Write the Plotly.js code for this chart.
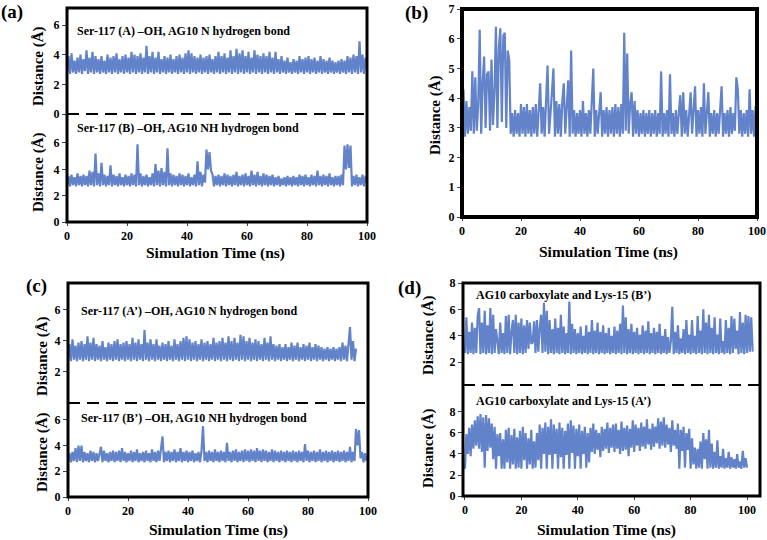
<!DOCTYPE html>
<html>
<head>
<meta charset="utf-8">
<script src="https://cdn.plot.ly/plotly-3.0.1.min.js"></script>
<style>html,body{margin:0;padding:0;background:#fff;}#chart{width:767px;height:540px;}</style>
</head>
<body>
<div id="chart"></div>
<script>
// ---------------- data (distance in Å, sampled every 0.5 ns) ----------------
const timeStep = 0.5;
const xTicks = [0, 20, 40, 60, 80, 100];

// (a) top: Ser-117 (A) –OH, AG10 N
const serA = [
2.8,3.9,2.7,4.1,2.8,3.6,2.7,3.8,2.8,4.0,
2.7,3.7,2.9,4.3,2.7,3.8,2.8,4.2,2.7,3.9,
2.8,3.7,2.7,3.9,2.8,3.6,2.7,4.0,2.8,3.8,
2.7,3.9,2.8,4.1,2.7,3.7,2.8,3.9,2.7,4.0,
2.8,3.8,2.7,4.2,2.8,4.0,2.7,3.9,2.8,4.1,
2.7,3.8,2.8,4.6,2.7,3.9,2.8,4.2,2.7,3.8,
2.8,4.2,2.7,3.7,2.8,3.9,2.7,3.8,2.8,4.0,
2.7,3.7,2.8,3.9,2.7,4.0,2.8,3.8,2.7,4.1,
2.8,4.3,2.7,4.1,2.8,3.9,2.7,3.8,2.8,4.0,
2.7,3.8,2.8,3.9,2.7,4.0,2.8,3.7,2.7,3.9,
2.8,4.2,2.7,3.9,2.8,4.1,2.7,3.8,2.8,4.3,
2.7,3.9,2.8,4.4,2.7,4.1,2.8,4.3,2.7,3.9,
2.8,4.2,2.7,3.8,2.8,4.3,2.7,4.0,2.8,3.9,
2.7,4.1,2.8,3.9,2.7,4.2,2.8,3.8,2.7,4.2,
2.8,3.7,2.7,3.9,2.8,3.6,2.7,3.8,2.8,3.5,
2.7,3.7,2.8,3.6,2.7,3.9,2.8,3.7,2.7,3.8,
2.8,3.9,2.7,3.7,2.8,3.8,2.7,3.6,2.8,3.9,
2.7,3.7,2.8,3.6,2.7,3.8,2.8,3.6,2.7,3.5,
2.8,3.6,2.7,3.7,2.8,3.6,2.7,3.9,2.8,3.8,
2.7,4.0,2.8,3.9,2.7,4.9,2.8,4.0,2.7,3.8,
3.0];

// (a) bottom: Ser-117 (B) –OH, AG10 NH
const serB = [
2.8,3.5,2.7,3.6,2.8,3.4,2.7,3.7,2.8,3.5,
2.7,3.6,2.8,3.5,2.7,3.9,2.8,3.8,2.7,5.2,
2.8,3.7,2.7,4.5,2.8,3.6,2.7,3.5,2.8,4.3,
2.7,3.6,2.8,3.5,2.7,3.7,2.8,3.4,2.7,3.6,
2.8,3.5,2.7,3.7,2.8,3.6,2.7,5.9,2.8,3.7,
2.7,3.5,2.8,3.6,2.7,3.4,2.8,3.7,2.7,4.4,
2.8,3.9,2.7,4.1,2.8,3.8,2.7,5.6,2.8,3.7,
2.7,3.6,2.8,3.5,2.7,3.7,2.8,3.6,2.7,3.5,
2.8,3.7,2.7,3.4,2.8,3.6,2.7,4.6,2.8,3.8,
2.7,3.6,3.0,5.5,4.0,5.3,3.9,3.6,2.7,3.5,
2.8,3.6,2.7,3.5,2.8,3.7,2.7,3.6,2.8,3.5,
2.7,3.6,2.8,3.8,2.7,3.5,2.8,3.6,2.7,3.7,
2.8,3.5,2.7,3.9,2.8,3.6,2.7,3.8,2.8,3.5,
2.7,3.7,2.8,3.6,2.7,3.5,2.8,3.6,2.7,3.4,
2.8,3.5,2.7,3.3,2.8,3.4,2.7,3.5,2.8,3.4,
2.7,3.5,2.8,3.4,2.7,3.6,2.8,3.5,2.7,3.6,
2.8,3.4,2.7,3.6,2.8,3.5,2.7,3.9,2.8,3.5,
2.7,3.6,2.8,3.5,2.7,3.7,2.8,3.4,2.7,3.5,
2.8,3.5,2.7,3.6,2.8,5.8,4.0,5.9,4.1,5.8,
2.7,3.5,2.8,3.6,2.7,3.4,2.8,3.6,2.7,3.5,
3.0];

// (b)
const panelB = [
2.8,4.3,2.7,3.9,2.8,3.7,2.9,4.9,2.8,4.7,
2.9,3.8,6.3,2.8,4.5,5.4,3.0,4.8,4.9,2.9,
5.3,3.1,4.2,6.4,3.0,5.7,6.35,3.2,6.1,6.2,
3.0,5.6,5.3,2.8,3.5,2.7,3.6,2.8,3.5,2.7,
3.8,2.8,3.7,2.7,3.8,2.8,3.6,2.7,3.7,2.8,
3.8,2.7,3.6,4.5,2.8,3.7,2.7,3.8,5.1,2.8,
3.7,4.2,5.0,2.7,3.9,2.8,3.8,2.7,3.9,4.5,
2.8,3.7,4.6,2.7,5.6,2.8,3.6,2.7,3.5,2.8,
3.6,2.7,3.9,2.8,3.5,2.7,3.6,2.8,3.7,5.0,
2.7,3.6,2.8,3.7,4.2,2.7,3.6,2.8,3.7,2.7,
3.6,2.8,3.7,2.7,3.8,2.8,3.7,2.7,3.8,2.8,
6.2,2.9,5.5,2.8,3.8,4.2,2.7,3.9,2.8,3.6,
2.7,3.5,2.8,3.6,2.7,3.5,2.8,3.6,2.7,3.5,
2.8,3.6,2.7,3.5,2.8,4.9,2.7,3.5,2.8,3.6,
2.7,4.8,2.8,3.5,2.7,3.6,2.8,3.5,4.1,2.7,
4.2,2.8,3.6,2.7,3.5,4.2,2.8,3.7,4.4,2.7,
3.6,2.8,3.7,2.7,4.5,2.8,3.6,4.2,2.7,3.5,
2.8,3.6,2.7,3.5,2.8,3.6,4.4,2.7,3.5,2.8,
3.6,2.7,3.7,2.8,3.5,2.9,4.7,4.3,2.8,3.6,
2.7,3.5,2.8,3.6,2.7,4.3,2.8,3.6,2.7,3.7,
3.7];

// (c) top: Ser-117 (A') –OH, AG10 N
const serAp = [
2.8,3.8,2.7,4.1,2.8,3.7,2.7,3.9,2.8,4.0,
2.7,3.8,2.8,4.3,2.7,3.9,2.8,4.2,2.7,3.8,
2.8,3.7,2.7,4.0,2.8,3.6,2.7,3.9,2.8,3.8,
2.7,4.0,2.8,4.1,2.7,3.8,2.8,3.9,2.7,4.0,
2.8,3.8,2.7,4.2,2.8,3.9,2.7,4.1,2.8,3.8,
2.7,4.7,2.8,3.9,2.7,4.1,2.8,3.8,2.7,4.1,
2.8,3.7,2.7,3.9,2.8,3.8,2.7,4.0,2.8,3.7,
2.7,4.1,2.8,3.8,2.7,4.0,2.8,4.2,2.7,4.3,
2.8,4.1,2.7,3.9,2.8,4.0,2.7,3.8,2.8,4.1,
2.7,3.9,2.8,4.0,2.7,3.8,2.8,4.2,2.7,3.9,
2.8,4.0,2.7,4.2,2.8,3.9,2.7,4.3,2.8,4.0,
2.7,4.2,2.8,3.9,2.7,4.4,2.8,4.3,2.7,4.0,
2.8,4.2,2.7,3.9,2.8,4.1,2.7,4.0,2.8,3.8,
2.7,4.2,2.8,3.9,2.7,4.3,2.8,3.8,2.7,3.7,
2.8,3.8,2.7,3.6,2.8,3.8,2.7,3.6,2.8,3.9,
2.7,3.7,2.8,3.9,2.7,3.6,2.8,3.8,2.7,3.7,
2.8,3.9,2.7,3.6,2.8,3.8,2.7,3.7,2.8,3.6,
2.7,3.5,2.8,3.6,2.7,3.5,2.8,3.6,2.7,3.5,
2.8,3.6,2.7,3.9,2.8,3.7,2.7,4.1,4.9,2.8,
4.0,2.7,3.5];

// (c) bottom: Ser-117 (B') –OH, AG10 NH
const serBp = [
2.8,3.4,2.7,3.5,2.8,3.8,2.7,4.0,2.8,4.0,
2.7,3.5,2.8,3.4,2.7,3.6,2.8,3.5,2.7,3.4,
2.8,3.5,3.9,2.7,3.6,2.8,3.4,2.7,3.5,2.8,
3.6,2.7,3.5,2.8,3.6,2.7,3.8,2.8,3.5,2.7,
3.4,2.8,3.6,2.7,3.5,2.8,3.7,2.7,3.4,2.8,
3.5,2.7,3.6,2.8,3.4,2.7,3.7,2.8,3.5,2.7,
3.6,2.8,3.7,4.7,2.7,3.5,2.8,3.6,2.7,3.5,
2.8,3.7,2.7,3.5,2.8,3.8,2.7,3.5,2.8,3.6,
2.7,3.5,2.8,3.6,2.7,3.4,2.8,3.5,2.7,3.6,
5.5,2.8,3.5,2.7,3.6,2.8,3.5,2.7,3.7,2.8,
3.5,2.7,3.6,2.8,3.5,2.7,4.2,2.8,3.5,2.7,
3.6,2.8,3.7,2.7,3.5,2.8,3.6,2.7,3.7,2.8,
3.6,2.7,3.7,2.8,3.6,2.7,3.8,2.8,3.6,2.7,
3.7,2.8,3.6,2.7,3.5,2.8,3.7,2.7,3.6,2.8,
3.5,2.7,3.6,2.8,3.5,2.7,3.6,2.8,3.5,2.7,
3.6,2.8,3.5,2.7,3.6,2.8,3.5,2.7,4.1,2.8,
3.6,2.7,3.5,2.8,3.6,2.7,3.5,2.8,3.7,2.7,
3.5,2.8,3.6,2.7,3.5,2.8,3.6,2.7,3.5,2.8,
3.6,2.7,3.5,2.8,3.6,2.7,3.5,2.8,3.9,2.7,
3.5,2.8,5.3,4.0,5.2,3.0,3.5,2.7,3.4,2.8,
3.2];

// (d) top: AG10 carboxylate and Lys-15 (B')
const lysBp = [
2.7,5.4,2.6,4.3,2.7,5.0,2.6,4.6,2.7,5.5,
6.1,2.6,5.0,2.7,5.9,2.6,4.8,2.7,6.1,2.6,
5.6,2.7,4.5,3.5,2.6,5.0,2.7,4.2,2.6,5.5,
2.7,5.6,2.6,4.3,5.2,2.7,5.6,2.6,5.0,2.7,
5.3,2.6,4.8,2.7,5.2,3.0,5.0,3.4,3.5,5.1,
2.7,5.2,2.8,4.6,5.6,2.7,6.5,2.8,5.9,2.6,
5.2,2.7,4.5,2.6,5.3,2.7,4.6,2.6,5.6,2.7,
4.7,2.6,4.2,2.7,6.6,2.6,4.9,2.7,4.5,2.6,
4.2,2.7,4.7,2.6,4.0,2.7,4.8,2.6,4.3,2.7,
5.2,2.6,4.4,2.7,5.0,2.6,4.3,2.7,4.8,2.6,
4.2,2.7,4.6,2.6,4.0,2.7,4.7,2.6,4.4,2.7,
4.9,2.6,6.3,2.7,5.4,2.6,4.5,2.7,4.9,2.6,
4.3,2.7,4.6,2.6,4.1,2.7,4.8,2.6,4.4,2.7,
5.1,2.6,4.2,2.7,4.6,2.6,4.3,2.7,4.9,2.6,
4.0,2.7,4.5,2.6,3.9,2.7,3.6,6.2,2.6,4.3,
2.7,4.8,2.6,3.8,2.7,4.5,2.6,5.2,2.7,4.1,
2.6,5.2,2.7,4.0,2.6,5.5,2.7,4.4,2.6,6.0,
2.7,5.0,2.6,5.6,2.7,4.6,2.6,5.4,2.7,4.1,
2.6,5.3,2.7,3.6,2.6,5.2,2.7,4.6,2.6,5.5,
2.7,5.3,3.0,4.4,2.6,5.8,2.7,5.0,2.6,5.6,
2.7,5.5,2.8,5.4,2.8];

// (d) bottom: AG10 carboxylate and Lys-15 (A')
const lysAp = [
2.6,5.9,4.0,6.5,3.8,6.8,4.5,7.2,4.8,7.6,
4.5,7.8,4.2,7.5,2.7,7.7,4.3,7.4,4.6,6.9,
3.5,6.6,2.6,5.9,3.8,6.0,2.6,5.4,2.6,6.3,
3.2,6.5,2.6,5.8,3.0,6.4,2.6,5.6,2.7,6.2,
2.6,6.6,3.4,6.0,2.6,5.5,3.0,6.3,2.6,5.2,
2.7,6.0,3.4,6.8,2.6,6.5,4.0,7.0,2.6,6.6,
3.9,7.3,2.6,6.8,4.0,6.4,2.6,7.0,3.7,6.5,
2.6,6.2,3.9,6.9,2.6,7.2,4.1,6.7,2.6,6.4,
3.8,6.8,2.6,6.2,4.0,6.6,2.7,6.0,3.2,6.5,
4.2,6.9,4.0,6.3,4.4,6.0,3.7,6.6,4.3,6.4,
4.5,7.0,4.1,6.5,4.6,6.8,4.2,6.9,4.5,6.3,
4.0,7.1,4.3,6.5,4.4,6.7,3.8,6.4,4.6,7.2,
4.2,6.8,4.8,6.5,4.3,7.0,4.7,6.6,4.5,7.3,
4.9,6.4,4.4,6.9,4.7,6.6,5.0,7.4,4.5,7.1,
4.8,7.5,4.6,6.8,4.9,6.5,4.2,7.2,4.8,6.3,
4.5,6.9,2.6,6.3,4.3,6.6,2.7,6.0,4.4,6.4,
2.6,5.5,3.0,4.6,2.6,4.5,2.7,5.2,2.6,6.0,
3.5,5.4,2.6,6.3,2.7,5.0,2.6,4.2,2.7,5.3,
2.6,3.8,2.7,4.5,2.6,3.6,2.7,4.2,2.6,3.7,
2.7,3.5,2.6,4.0,2.7,3.3,2.6,4.3,2.7,3.6,
2.7];

// ---------------- layout helpers ----------------
const W = 767, H = 540;
const LINE = '#6283C9';
const SERIF = '"Liberation Serif", "Times New Roman", Times, serif';
const px = v => v / W;
const py = v => 1 - v / H;
const times = arr => arr.map((_, i) => i * timeStep);

function trace(vals, n) {
  return {x: times(vals), y: vals, type: 'scatter', mode: 'lines',
    line: {color: LINE, width: 2.2}, xaxis: 'x' + (n === 1 ? '' : n), yaxis: 'y' + (n === 1 ? '' : n),
    hoverinfo: 'skip', showlegend: false};
}

const data = [
  trace(serA, 1), trace(serB, 2), trace(panelB, 3),
  trace(serAp, 4), trace(serBp, 5), trace(lysBp, 6), trace(lysAp, 7)
];

const tickFont = {family: SERIF, size: 12, color: '#000', weight: 'bold'};
function xax(l, r, anchor, showTicks, range) {
  return {domain: [px(l), px(r)], anchor: anchor, range: range || [0, 100],
    tickvals: showTicks ? xTicks : [], ticks: showTicks ? 'outside' : '', ticklen: 3, tickwidth: 1,
    showticklabels: showTicks, tickfont: tickFont, showgrid: false, zeroline: false, showline: false, fixedrange: true};
}
function yax(t, b, anchor, range, tv) {
  return {domain: [py(b), py(t)], anchor: anchor, range: range, tickvals: tv,
    ticks: 'outside', ticklen: 4, tickwidth: 1, tickfont: tickFont,
    showgrid: false, zeroline: false, showline: false, fixedrange: true};
}

// panel pixel boxes
const A = {l: 67, r: 367, t: 8, m: 114, b: 222};
const B = {l: 462, r: 757, t: 9, b: 217};
const C = {l: 68, r: 368, t: 283, m: 403, b: 497};
const D = {l: 463, r: 760, t: 283, m: 385, b: 496};

const layout = {
  width: W, height: H, margin: {l: 0, r: 0, t: 0, b: 0},
  paper_bgcolor: '#fff', plot_bgcolor: 'rgba(0,0,0,0)',
  font: {family: SERIF, color: '#000'},
  xaxis: xax(A.l, A.r, 'y', false),
  yaxis: yax(A.t, A.m, 'x', [0, 7.15], [0, 2, 4, 6]),
  xaxis2: xax(A.l, A.r, 'y2', true),
  yaxis2: yax(A.m, A.b, 'x2', [0, 8.2], [0, 2, 4, 6]),
  xaxis3: xax(B.l, B.r, 'y3', true),
  yaxis3: yax(B.t, B.b, 'x3', [0, 7], [0, 1, 2, 3, 4, 5, 6, 7]),
  xaxis4: xax(C.l, C.r, 'y4', false),
  yaxis4: yax(C.t, C.m, 'x4', [0, 7.74], [2, 4, 6]),
  xaxis5: xax(C.l, C.r, 'y5', true),
  yaxis5: yax(C.m, C.b, 'x5', [0, 7.3], [0, 2, 4, 6]),
  xaxis6: xax(D.l, D.r, 'y6', false, [-0.7, 104.6]),
  yaxis6: yax(D.t, D.m, 'x6', [0.27, 8.0], [2, 4, 6, 8]),
  xaxis7: xax(D.l, D.r, 'y7', true, [-0.7, 104.6]),
  yaxis7: yax(D.m, D.b, 'x7', [0, 10.57], [0, 2, 4, 6, 8]),
  shapes: [],
  annotations: []
};

function frame(p, w) {
  layout.shapes.push({type: 'rect', xref: 'paper', yref: 'paper', x0: px(p.l), x1: px(p.r), y0: py(p.b), y1: py(p.t),
    line: {color: '#000', width: w}, fillcolor: 'rgba(0,0,0,0)', layer: 'above'});
  if (p.m !== undefined) {
    layout.shapes.push({type: 'line', xref: 'paper', yref: 'paper', x0: px(p.l), x1: px(p.r), y0: py(p.m), y1: py(p.m),
      line: {color: '#000', width: 2, dash: '12px,7px'}, layer: 'above'});
  }
}
frame(A, 3); frame(B, 4); frame(C, 3); frame(D, 3);

function note(text, x, y, size, opts) {
  layout.annotations.push(Object.assign({text: text, xref: 'paper', yref: 'paper', x: px(x), y: py(y),
    showarrow: false, xanchor: 'center', yanchor: 'middle', borderpad: 0,
    font: {family: SERIF, size: size, color: '#000', weight: 'bold'}}, opts || {}));
}
// panel letters
note('(a)', 12, 12, 19);
note('(b)', 416, 13, 19);
note('(c)', 36, 286, 19);
note('(d)', 410, 288, 19);
// series labels
note('Ser-117 (A) –OH, AG10 N hydrogen bond', 76, 31, 12, {xanchor: 'left'});
note('Ser-117 (B) –OH, AG10 NH hydrogen bond', 76, 128, 12, {xanchor: 'left'});
note('Ser-117 (A’) –OH, AG10 N hydrogen bond', 80, 311, 12, {xanchor: 'left'});
note('Ser-117 (B’) –OH, AG10 NH hydrogen bond', 80, 418, 12, {xanchor: 'left'});
note('AG10 carboxylate and Lys-15 (B’)', 475, 295, 12, {xanchor: 'left'});
note('AG10 carboxylate and Lys-15 (A’)', 475, 401, 12, {xanchor: 'left'});
// axis titles
const yT = 'Distance (Å)', xT = 'Simulation Time (ns)';
note(yT, 38, 66, 15, {textangle: -90});
note(yT, 38, 172, 15, {textangle: -90});
note(yT, 435, 115, 15, {textangle: -90});
note(yT, 42, 356, 15, {textangle: -90});
note(yT, 42, 452, 15, {textangle: -90});
note(yT, 428, 335, 15, {textangle: -90});
note(yT, 428, 448, 15, {textangle: -90});
note(xT, 215, 253, 15.5);
note(xT, 608, 252, 15.5);
note(xT, 218, 530, 15.5);
note(xT, 606, 530, 15.5);

Plotly.newPlot('chart', data, layout, {staticPlot: true, displayModeBar: false});
</script>
</body>
</html>
